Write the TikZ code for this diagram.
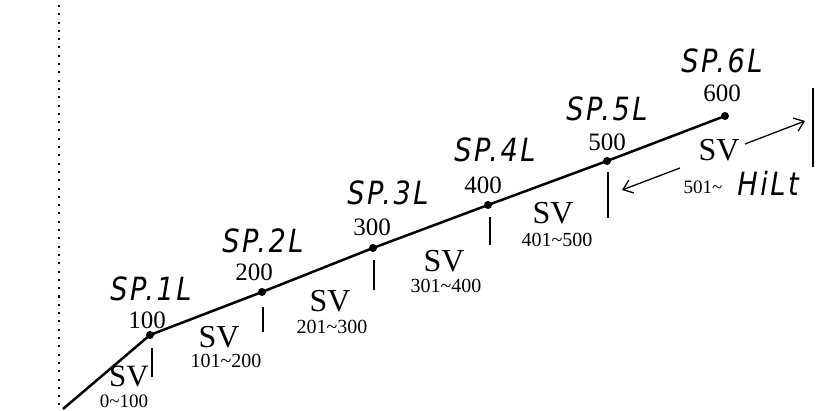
\documentclass[tikz,border=0pt]{standalone}
\usepackage{fontspec}
\setmainfont{Liberation Serif}
\newfontfamily\lcdfont{DejaVu Sans}[FakeStretch=0.85, LetterSpace=8]
\usetikzlibrary{arrows.meta}
\begin{document}
\begin{tikzpicture}[x=1pt,y=-1pt,
  lcd/.style={font=\lcdfont\itshape\fontsize{32}{32}\selectfont, inner sep=0},
  num/.style={font=\fontsize{25}{25}\selectfont, inner sep=0},
  sv/.style={font=\fontsize{32}{32}\selectfont, inner sep=0},
  rng/.style={font=\fontsize{20}{20}\selectfont, inner sep=0},
  sml/.style={font=\fontsize{19}{19}\selectfont, inner sep=0},
  pt/.style={circle, fill, inner sep=0, minimum size=8pt},
  curve/.style={line width=2.5pt},
  tickline/.style={line width=1.3pt},
  arr/.style={line width=1.3pt, -{Straight Barb[length=9pt,width=14pt]}},
  axis/.style={line width=2pt, dash pattern=on 2pt off 6.3pt}
]
\useasboundingbox (0,0) rectangle (834,411);
% dotted axis
\coordinate (ax1) at (59,5);
\coordinate (ax2) at (59,410);
\draw[axis] (ax1) -- (ax2);
% points
\coordinate (p0) at (63,409);
\node[pt] (p1) at (150,335) {};
\node[pt] (p2) at (262,292) {};
\node[pt] (p3) at (373,248) {};
\node[pt] (p4) at (488,205) {};
\node[pt] (p5) at (607,161) {};
\node[pt] (p6) at (725,116) {};
\draw[curve] (p0) -- (p1.center) -- (p2.center) -- (p3.center) -- (p4.center) -- (p5.center) -- (p6.center);
% ticks
\coordinate (t1a) at (152,348); \coordinate (t1b) at (152,377);
\coordinate (t2a) at (263,307); \coordinate (t2b) at (263,332);
\coordinate (t3a) at (374,260); \coordinate (t3b) at (374,290);
\coordinate (t4a) at (490,217); \coordinate (t4b) at (490,245);
\coordinate (t5a) at (608,172); \coordinate (t5b) at (608,218);
\coordinate (t6a) at (813,88);  \coordinate (t6b) at (813,167);
\foreach \i in {1,...,6} \draw[tickline] (t\i a) -- (t\i b);
% value labels
\node[num] (v1) at (147,320) {100};
\node[num] (v2) at (254,272) {200};
\node[num] (v3) at (372,227) {300};
\node[num] (v4) at (483,185) {400};
\node[num] (v5) at (607,142) {500};
\node[num] (v6) at (722,93) {600};
% SP labels
\node[lcd] (s1) at (151,289) {SP.1L};
\node[lcd] (s2) at (263,241) {SP.2L};
\node[lcd] (s3) at (388,193) {SP.3L};
\node[lcd] (s4) at (495,150) {SP.4L};
\node[lcd] (s5) at (607,109) {SP.5L};
\node[lcd] (s6) at (722,61) {SP.6L};
% SV labels
\node[sv, font=\fontsize{31}{31}\selectfont] (sv1) at (129,376) {SV};
\node[rng, font=\fontsize{19}{19}\selectfont] (r1) at (124,401) {0\textasciitilde100};
\node[sv] (sv2) at (219,337) {SV};
\node[rng] (r2) at (226,361) {101\textasciitilde200};
\node[sv] (sv3) at (330,301) {SV};
\node[rng] (r3) at (332,327) {201\textasciitilde300};
\node[sv] (sv4) at (444,261) {SV};
\node[rng] (r4) at (446,286) {301\textasciitilde400};
\node[sv] (sv5) at (553,213) {SV};
\node[rng] (r5) at (557,240) {401\textasciitilde500};
\node[sv] (sv6) at (719,150) {SV};
\node[sml] (r6) at (703,187) {501\textasciitilde};
\node[lcd] (hi) at (768,183) {HiLt};
% arrows
\coordinate (a1s) at (745,144);
\coordinate (a1e) at (805,121);
\coordinate (a2s) at (680,168);
\coordinate (a2e) at (622,190);
\draw[arr] (a1s) -- (a1e);
\draw[arr] (a2s) -- (a2e);
\end{tikzpicture}
\end{document}
